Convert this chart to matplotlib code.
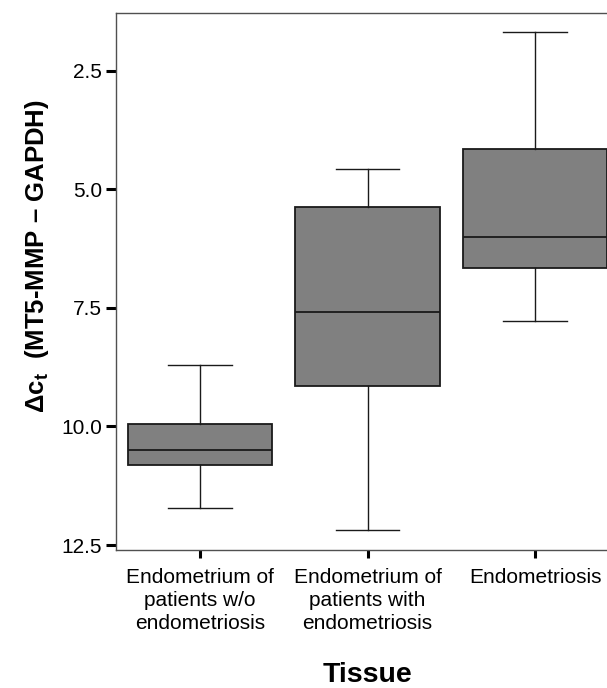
import numpy as np
import matplotlib
matplotlib.use('Agg')
import matplotlib.pyplot as plt

plt.rcParams['font.family'] = ['Liberation Sans', 'DejaVu Sans']
plt.rcParams['mathtext.fontset'] = 'custom'
plt.rcParams['mathtext.rm'] = 'Liberation Sans'
plt.rcParams['mathtext.bf'] = 'Liberation Sans:bold'

# box summary values (delta Ct, axis inverted)
categories = ['Endometrium of\npatients w/o\nendometriosis',
              'Endometrium of\npatients with\nendometriosis',
              'Endometriosis']
whisker_low = [8.71, 4.58, 1.68]
q1 = [9.94, 5.37, 4.15]
medians = [10.49, 7.58, 6.00]
q3 = [10.81, 9.14, 6.66]
whisker_high = [11.71, 12.18, 7.77]
yticks = [2.5, 5.0, 7.5, 10.0, 12.5]

stats = []
for i, name in enumerate(categories):
    stats.append({'label': name, 'whislo': whisker_low[i], 'q1': q1[i],
                  'med': medians[i], 'q3': q3[i], 'whishi': whisker_high[i],
                  'fliers': []})

fig = plt.figure(figsize=(6.07, 6.88), dpi=100)
ax = fig.add_axes([116 / 607, 138 / 688, 503 / 607, 537 / 688])

ax.bxp(stats, positions=[1, 2, 3], widths=0.86, patch_artist=True,
       showfliers=False,
       boxprops=dict(facecolor='#808080', edgecolor='#1a1a1a', linewidth=1.3),
       medianprops=dict(color='#1a1a1a', linewidth=1.3),
       whiskerprops=dict(color='#1a1a1a', linewidth=1.0),
       capprops=dict(color='#1a1a1a', linewidth=1.0),
       capwidths=0.38)

ax.set_xlim(0.5, 3.5)
ax.set_ylim(12.605, 1.283)
ax.set_yticks(yticks)
ax.set_yticklabels(['{:.1f}'.format(v) for v in yticks])

for side in ['top', 'left', 'bottom', 'right']:
    ax.spines[side].set_color('#505050')
    ax.spines[side].set_linewidth(1.0)

ax.tick_params(axis='y', direction='out', length=7, width=2.2, pad=3,
               labelsize=15, color='black')
ax.tick_params(axis='x', direction='out', length=5.5, width=2.2, pad=7.5,
               labelsize=15, color='black')
for lab in ax.get_xticklabels():
    lab.set_linespacing(1.27)

ax.set_xlabel('Tissue', fontsize=20.5, fontweight='bold')
ax.xaxis.set_label_coords(0.5, -0.209)
ax.set_ylabel('Δc$_{\\mathregular{t}}$  (MT5-MMP – GAPDH)', fontsize=18.5,
              fontweight='bold')
ax.yaxis.set_label_coords(-0.13, 0.548)

fig.savefig('out.png', dpi=100)
